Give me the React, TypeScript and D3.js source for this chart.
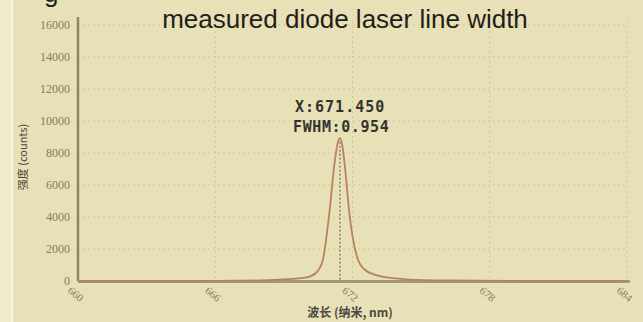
import React from 'react';
import * as d3 from 'd3';

// wavelength (nm) / intensity (counts)
const wavelengths = [660, 664, 666, 667, 668, 668.8, 669.5, 670, 670.4, 670.7, 670.9, 671.0, 671.2, 671.35, 671.45, 671.55, 671.7, 671.85, 672.0, 672.2, 672.5, 673.0, 673.5, 674.5, 676, 680, 684];
const counts = [0, 0, 5, 15, 40, 90, 150, 230, 500, 1300, 3200, 4400, 7200, 8600, 8950, 8500, 6700, 4400, 2800, 1500, 750, 380, 220, 90, 30, 0, 0];

const xTicks = [660, 666, 672, 678, 684];
const yTicks = [0, 2000, 4000, 6000, 8000, 10000, 12000, 14000, 16000];
const peakX = 671.45;
const peakVal = 8950;
const peakLabel = 'X:671.450';
const fwhmLabel = 'FWHM:0.954';
const title = 'measured diode laser line width';
const xLabel = '波长 (纳米, nm)';
const yLabel = '强度 (counts)';

const W = 643;
const H = 322;

export default function App() {
  const x = d3.scaleLinear().domain([660, 684]).range([78, 627]);
  const y = d3.scaleLinear().domain([0, 16000]).range([281, 25]);

  const pts = wavelengths.map((w, i) => [w, counts[i]] as [number, number]);
  const line = d3
    .line<[number, number]>()
    .x((d) => x(d[0]))
    .y((d) => y(d[1]))
    .curve(d3.curveMonotoneX);

  return (
    <svg width={W} height={H} style={{ position: 'absolute', left: 0, top: 0, display: 'block' }}>
      <rect x={0} y={0} width={W} height={H} fill="#e8e0b6" />
      <rect x={0} y={0} width={11} height={H} fill="#efebcb" />
      <rect x={11} y={0} width={2} height={H} fill="#f7f4e0" />

      {/* grid */}
      {yTicks.slice(1).map((t) => (
        <line key={'gy' + t} x1={x(660)} x2={x(684)} y1={y(t)} y2={y(t)} stroke="#cfc597" strokeWidth={1} strokeDasharray="2,3" />
      ))}
      {xTicks.slice(1).map((t) => (
        <line key={'gx' + t} x1={x(t)} x2={x(t)} y1={y(16000) - 4} y2={y(0)} stroke="#cfc597" strokeWidth={1} strokeDasharray="2,3" />
      ))}

      {/* axes */}
      <line x1={x(660)} x2={x(660)} y1={y(16000) - 8} y2={y(0)} stroke="#8e8666" strokeWidth={2.5} />
      <line x1={x(660)} x2={x(684) + 3} y1={y(0) + 0.5} y2={y(0) + 0.5} stroke="#a3967a" strokeWidth={3} />

      {yTicks.map((t) => (
        <text key={'ty' + t} x={70} y={y(t) + 4} textAnchor="end" fontFamily="Liberation Serif, serif" fontSize={12} fill="#857e60">
          {t}
        </text>
      ))}
      {xTicks.map((t) => (
        <text
          key={'tx' + t}
          transform={`translate(${x(t) - 3},${y(0) + 14}) rotate(40)`}
          textAnchor="middle"
          dominantBaseline="middle"
          fontFamily="Liberation Serif, serif"
          fontSize={11}
          fill="#857e60"
        >
          {t}
        </text>
      ))}

      {/* spectrum */}
      <path d={line(pts) || ''} fill="none" stroke="#bb8060" strokeWidth={1.8} />
      <line x1={x(peakX)} x2={x(peakX)} y1={y(peakVal) + 4} y2={y(0)} stroke="#8a8470" strokeWidth={1.5} strokeDasharray="2,2" />

      <text x={295} y={112} fontFamily="DejaVu Sans Mono, monospace" fontWeight="bold" fontSize={15} fill="#34342e" letterSpacing={1}>
        {peakLabel}
      </text>
      <text x={293} y={132} fontFamily="DejaVu Sans Mono, monospace" fontWeight="bold" fontSize={15} fill="#34342e" letterSpacing={0.6}>
        {fwhmLabel}
      </text>

      <text x={345} y={28} textAnchor="middle" fontFamily="Liberation Sans, Arial, sans-serif" fontSize={26} fill="#1e1e1a">
        {title}
      </text>
      <text x={44} y={2} fontFamily="Liberation Sans, Arial, sans-serif" fontSize={26} fill="#1e1e1a">
        g
      </text>

      <text x={350} y={317} textAnchor="middle" fontFamily="Noto Sans CJK SC, sans-serif" fontWeight="bold" fontSize={12} fill="#4a4840">
        {xLabel}
      </text>
      <text transform="translate(27,157) rotate(-90)" textAnchor="middle" fontFamily="Noto Sans CJK SC, sans-serif" fontSize={11} fill="#4a4840">
        {yLabel}
      </text>
    </svg>
  );
}
